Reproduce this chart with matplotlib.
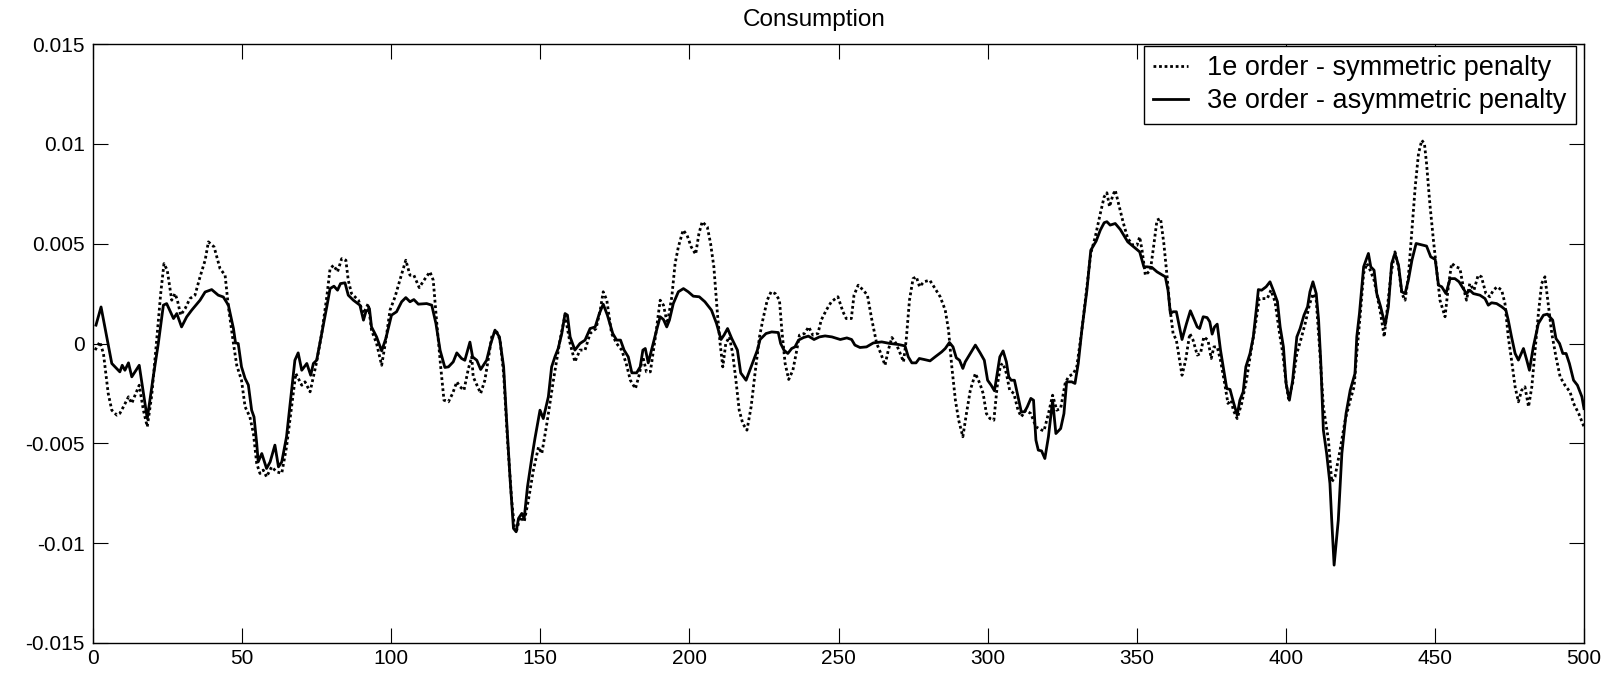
import numpy as np
import matplotlib
matplotlib.use("Agg")
import matplotlib.pyplot as plt

plt.rcParams['font.family'] = ['Liberation Sans', 'DejaVu Sans']

title = "Consumption"
legend_labels = ["1e order - symmetric penalty", "3e order - asymmetric penalty"]
xticks = [0, 50, 100, 150, 200, 250, 300, 350, 400, 450, 500]
yticks = [-0.015, -0.01, -0.005, 0, 0.005, 0.01, 0.015]
ytick_labels = ["-0.015", "-0.01", "-0.005", "0", "0.005", "0.01", "0.015"]

# 3e order - asymmetric penalty (solid), y in units of 1e-3
solid_x = [1, 2.7, 6.3, 9.0, 9.8, 10.7, 11.9, 13.0, 15.5, 18.2, 20.2, 21.9, 23.6, 24.7, 27.0, 28.1, 29.7, 31.4, 33.1, 35.9, 37.6, 39.8, 42.0, 43.7, 45.4, 47.1, 47.8, 48.7, 49.8, 51.0, 52.1, 53.2, 54.0, 54.9, 55.4, 56.6, 58.2, 59.4, 61.0, 62.2,
           63.3, 64.9, 66.0, 67.7, 68.8, 70.0, 71.7, 73.0, 73.9, 75.0, 76.7, 78.4, 79.5, 80.8, 82.0, 83.0, 84.5, 85.6, 87.3, 89.5, 90.7, 91.5, 92.7, 93.4, 95.1, 96.8, 98.2, 100.1, 101.8, 103.5, 104.9, 106.3, 107.6, 109.1, 111.9, 113.6, 115.0, 116.4, 118.0, 119.2, 120.8, 122.0, 123.6, 124.7, 126.4,
           127.3, 128.7, 130.0, 132.0, 133.4, 134.8, 136.3, 137.7, 138.7, 139.9, 141.0, 141.9, 142.7, 143.8, 144.6, 145.7, 147.2, 148.2, 149.9, 151.0, 152.7, 153.8, 154.9, 156.0, 157.2, 158.3, 159.1, 160.0, 161.6, 163.3, 165.0, 166.7, 168.4, 169.8, 171.1, 172.5, 174.3, 175.6, 176.9, 178.1, 179.5, 180.7, 182.3, 183.5, 184.4, 185.2, 186.2, 187.7, 189.0, 190.2,
           191.3, 192.4, 193.3, 194.6, 196.3, 198.0, 199.6, 201.3, 203.3, 205.2, 207.4, 209.1, 210.6, 211.6, 212.8, 214.2, 216.1, 217.2, 219.0, 220.9, 222.8, 223.7, 225.7, 227.6, 229.8, 230.6, 231.7, 233.0, 234.3, 235.4, 236.6, 238.3, 239.9, 241.8, 243.6, 245.5, 247.8, 250.6, 252.8, 254.4,
           255.5, 257.2, 259.4, 261.7, 264.5, 267.3, 270.1, 272.3, 273.4, 274.6, 276.0, 277.1, 278.7, 280.7, 282.4, 284.6, 285.8, 287.2, 288.4, 289.5, 290.6, 291.7, 292.5, 294.2, 295.9, 297.5, 298.9, 300.0, 301.2, 302.3, 303.4, 304.1, 305.2, 306.3, 307.1, 307.9, 309.0, 310.2, 311.3, 312.4, 313.3, 314.5, 315.4, 316.2, 317.0, 318.1, 319.2,
           320.4, 321.8, 322.9, 324.5, 325.6, 326.5, 328.2, 329.3, 330.4, 331.6, 333.3, 334.6, 336.4, 337.8, 339.1, 340.0, 341.1, 342.8, 344.5, 347.0, 349.0, 351.0, 352.4, 353.5, 355.1, 356.8, 359.6, 360.5, 361.3, 362.2, 363.3, 365.2, 366.7, 368.0, 369.1, 370.3, 371.1, 372.3, 373.6, 374.5, 375.3, 376.1, 377.0, 378.1, 379.3, 380.2, 381.3,
           382.4, 383.7, 384.6, 385.7, 386.6, 388.0, 389.1, 390.2, 390.8, 391.9, 393.4, 394.7, 395.8, 397.2, 398.1, 399.2, 400.1, 401.2, 402.3, 403.7, 404.8, 406.1, 407.3, 408.1, 409.1, 410.2, 411.0, 411.7, 412.6, 413.7, 414.8, 415.4, 416.2, 417.6, 418.8, 420.2, 421.6, 423.2, 423.8, 424.7, 426.1, 427.7, 428.5, 429.6, 430.5, 431.8, 433.3, 434.4, 435.5, 436.6, 437.8, 438.9, 440.0, 441.1, 442.3, 443.7,
           445.0, 447.2, 448.6, 450.1, 451.2, 452.3, 453.7, 455.1, 456.7, 458.1, 459.5, 460.6, 461.7, 462.9, 465.1, 466.8, 467.9, 469.0, 470.7, 472.4, 473.8, 474.6, 475.7, 476.9, 478.0, 479.7, 480.8, 481.7, 483.0, 484.7, 486.4, 487.7, 489.5, 490.6, 491.8, 492.9, 494.0, 495.1, 496.5, 497.8, 499.3, 500.0]
solid_y = [0.92, 1.83, -1.0, -1.42, -1.09, -1.34, -0.97, -1.67, -1.09, -3.76, -1.67, 0, 1.92, 2.0, 1.25, 1.5, 0.83, 1.33, 1.67, 2.17, 2.58, 2.7, 2.42, 2.33, 1.92, 0.75, 0.03, 0, -1.17, -1.75, -2.08, -3.34, -3.68, -5.0, -5.93, -5.51, -6.26, -5.93, -5.09, -6.18,
           -5.93, -4.67, -3.17, -0.84, -0.47, -1.34, -1.0, -1.59, -1.0, -0.84, 0.5, 1.84, 2.75, 2.87, 2.67, 3.0, 3.04, 2.42, 2.17, 1.92, 1.17, 1.59, 1.75, 0.83, 0.33, -0.37, 0.25, 1.42, 1.59, 2.09, 2.3, 2.09, 2.2, 1.97, 2.0, 1.92, 1.0, -0.34, -1.2, -1.17, -0.92, -0.47, -0.75, -0.84, 0.07,
           -0.67, -0.84, -1.3, -0.84, 0, 0.67, 0.33, -1.17, -3.84, -6.85, -9.26, -9.43, -8.76, -8.51, -8.76, -7.18, -5.68, -4.76, -3.34, -3.76, -2.67, -1.17, -0.67, -0.25, 0.5, 1.5, 1.42, 0.33, -0.33, 0, 0.17, 0.75, 0.83, 1.5, 1.97, 1.42, 0.5, 0.17, 0.17, -0.33, -0.67, -1.47, -1.47, -1.17, -0.33, -0.25, -0.97, -0.08, 0.67, 1.34,
           1.2, 0.83, 1.17, 2.0, 2.59, 2.75, 2.59, 2.37, 2.34, 2.09, 1.67, 1.0, 0.2, 0.42, 0.75, 0.25, -0.33, -1.47, -1.84, -1.09, -0.33, 0.2, 0.5, 0.58, 0.55, 0, -0.33, -0.5, -0.25, -0.17, 0.17, 0.3, 0.37, 0.2, 0.33, 0.38, 0.33, 0.2, 0.28, 0.2,
           -0.08, -0.2, -0.17, 0.03, 0.08, 0, -0.05, -0.12, -0.67, -0.97, -0.97, -0.75, -0.8, -0.87, -0.67, -0.42, -0.25, 0.05, -0.17, -0.72, -0.84, -1.25, -0.92, -0.5, -0.08, -0.47, -0.84, -1.84, -2.09, -2.37, -1.34, -0.67, -0.37, -0.92, -1.67, -1.84, -1.84, -2.67, -3.42, -3.42, -3.17, -2.75, -2.84, -4.84, -5.34, -5.38, -5.76,
           -4.67, -2.84, -4.51, -4.26, -3.51, -1.92, -1.92, -2.0, -1.0, 0.67, 2.67, 4.67, 5.13, 5.68, 6.05, 6.1, 5.93, 6.01, 5.71, 5.09, 4.84, 4.59, 3.84, 3.84, 3.81, 3.59, 3.34, 2.67, 1.5, 1.59, 1.59, 0.2, 1.0, 1.64, 1.25, 0.83, 0.75, 1.34, 1.3, 1.09, 0.47, 0.83, 0.97, -0.33, -1.42, -2.26, -2.3,
           -2.92, -3.59, -2.84, -2.42, -1.17, -0.5, 0.33, 1.83, 2.7, 2.67, 2.84, 3.09, 2.67, 2.09, 0.83, -0.17, -2.0, -2.84, -1.84, 0.33, 0.75, 1.42, 1.84, 2.59, 3.09, 2.5, 1.17, -0.83, -4.34, -5.51, -7.01, -8.85, -11.1, -8.85, -5.51, -3.51, -2.34, -1.5, 0.33, 1.5, 3.84, 4.51, 3.84, 3.67, 2.5, 1.84, 0.92, 1.84, 4.01, 4.51, 3.92, 2.59, 2.5, 3.17, 4.17, 5.01,
           4.96, 4.88, 4.34, 4.21, 2.92, 2.84, 2.5, 3.25, 3.25, 3.09, 2.75, 2.5, 2.67, 2.5, 2.42, 2.25, 1.92, 2.04, 2.0, 1.84, 1.67, 1.17, 0.33, -0.5, -0.83, -0.25, -0.83, -1.34, -0.17, 1.0, 1.42, 1.47, 1.17, 0.25, 0, -0.5, -0.5, -1.0, -1.84, -2.09, -2.67, -3.26]

# 1e order - symmetric penalty (dotted), y in units of 1e-3
dotted_x = [0.7, 2.3, 3.5, 5.1, 6.3, 8.0, 9.0, 10.2, 11.9, 13.0, 14.1, 15.5, 16.9, 18.2, 19.7, 21.4, 22.7, 23.8, 24.9, 26.4, 27.5, 28.3, 29.4, 30.9, 32.5, 34.2, 35.9, 37.6, 38.7, 40.6, 42.6, 44.3, 45.4, 47.1, 48.2, 49.8, 51.0, 52.6, 53.8, 54.9, 56.0, 57.1, 58.2, 59.9, 61.6, 63.3,
            64.9, 66.6, 68.0, 70.0, 71.1, 72.8, 73.9, 75.0, 76.7, 78.4, 79.5, 80.7, 82.0, 83.4, 84.8, 85.6, 86.7, 89.0, 90.7, 92.3, 93.4, 95.1, 96.8, 98.2, 99.6, 101.3, 102.9, 104.9, 106.3, 107.6, 109.4, 111.0, 113.0, 114.1, 115.2, 116.6, 117.7, 119.2, 120.6, 122.0, 123.1, 124.4, 125.9, 127.0,
            127.5, 130.0, 131.4, 132.5, 133.7, 135.2, 136.5, 137.7, 139.0, 140.4, 141.3, 142.1, 143.2, 144.6, 146.0, 147.7, 149.4, 150.5, 152.2, 154.4, 156.6, 158.3, 160.0, 161.6, 163.3, 165.0, 166.7, 168.7, 170.1, 171.1, 172.3, 173.9, 175.6, 177.3, 178.8, 180.2, 181.9, 183.0, 184.4, 185.6, 186.9, 188.6, 190.2,
            191.3, 192.6, 194.1, 195.2, 196.3, 197.9, 199.2, 200.6, 202.1, 203.2, 204.3, 206.0, 207.1, 208.2, 209.4, 210.3, 211.2, 212.2, 213.4, 214.5, 215.6, 216.7, 217.9, 219.3, 220.7, 222.0, 223.5, 224.6, 226.1, 227.4, 228.8, 230.2, 231.0, 232.1, 233.3, 234.7, 235.8, 236.9, 238.6, 240.0, 241.4, 243.1, 244.2, 245.9, 247.6, 249.8, 251.5, 252.6, 254.3,
            255.2, 256.6, 258.3, 259.7, 261.1, 262.8, 264.2, 265.6, 266.7, 267.9, 269.3, 270.7, 271.8, 272.7, 273.8, 275.0, 276.1, 277.2, 278.6, 280.6, 282.4, 284.1, 285.8, 286.9, 288.0, 289.2, 290.3, 291.7, 292.9, 294.2, 295.9, 297.4, 298.5, 299.6, 300.8, 302.1, 303.2, 304.3, 305.2, 306.3, 307.4, 308.8, 310.2, 311.3, 312.8, 314.5, 316.2, 317.8,
            318.9, 320.4, 321.8, 323.2, 324.5, 326.0, 327.1, 328.8, 329.9, 331.6, 333.3, 334.6, 336.1, 337.8, 339.1, 340.0, 340.9, 342.0, 342.8, 343.9, 345.4, 347.0, 348.8, 350.1, 351.0, 351.8, 352.9, 354.6, 355.8, 356.8, 358.0, 359.1, 360.2, 361.1, 362.2, 363.3, 364.4, 365.2, 366.4, 367.8, 368.9, 370.3, 371.4, 372.5, 373.9, 375.0, 375.9, 377.0, 378.1, 379.5, 380.6, 381.7,
            382.4, 383.7, 385.2, 386.8, 388.2, 389.7, 391.1, 392.5, 393.8, 395.0, 396.4, 397.9, 399.0, 400.1, 400.9, 402.3, 403.7, 405.0, 406.5, 407.9, 409.1, 410.2, 411.3, 412.6, 414.3, 415.4, 416.5, 418.2, 419.9, 421.6, 422.9, 423.8, 424.9, 426.1, 427.2, 428.3, 429.6, 430.5, 431.8, 433.0, 434.1, 435.3, 436.6, 437.8, 438.9, 440.0, 441.1, 442.3, 443.4, 444.5, 445.6,
            446.5, 447.2, 448.3, 449.5, 450.6, 451.7, 453.4, 454.5, 455.6, 457.1, 458.4, 459.5, 460.6, 461.7, 463.1, 464.5, 465.6, 467.1, 468.4, 469.6, 470.9, 472.4, 473.5, 474.6, 475.7, 476.9, 478.0, 479.1, 480.2, 481.4, 482.5, 483.6, 484.7, 485.8, 486.9, 488.1, 489.2, 490.6, 492.0, 493.6, 495.3, 496.5, 498.2, 500.0]
dotted_y = [-0.33, 0.08, -0.5, -2.5, -3.34, -3.59, -3.5, -3.17, -2.67, -3.0, -2.59, -2.09, -3.34, -4.17, -2.59, 0.25, 2.5, 4.0, 3.67, 2.17, 2.5, 2.17, 1.42, 1.75, 2.25, 2.42, 3.34, 4.17, 5.09, 4.84, 3.75, 3.42, 1.84, 0, -1.09, -1.84, -3.17, -3.67, -4.51, -6.01, -6.51, -6.34, -6.68, -6.18, -6.43, -6.5,
            -5.18, -3.17, -1.5, -2.09, -1.92, -2.42, -1.67, -0.92, 0.5, 2.34, 3.75, 3.92, 3.59, 4.25, 4.17, 3.17, 2.5, 2.17, 1.5, 2.0, 0.67, 0, -1.09, 0.17, 1.67, 2.34, 3.17, 4.17, 3.42, 3.42, 2.8, 3.17, 3.59, 3.17, 1.17, -1.17, -2.84, -2.92, -2.5, -1.92, -2.17, -2.34, -1.25, -0.67,
            -1.67, -2.5, -1.84, -0.84, 0.33, 0.67, 0.17, -1.5, -4.84, -7.85, -9.18, -9.35, -8.68, -8.93, -7.85, -6.34, -5.18, -5.51, -4.01, -1.84, 0.17, 1.42, 0, -0.92, -0.33, -0.33, 0.5, 0.75, 1.67, 2.59, 2.17, 0.5, 0, -0.33, -1.0, -1.84, -2.26, -1.67, -0.67, -1.42, -1.42, 0.33, 2.17,
            1.92, 1.0, 2.34, 4.0, 4.84, 5.68, 5.43, 4.84, 4.47, 5.51, 6.1, 5.84, 5.01, 3.84, 1.5, 0, -1.17, 0, 0.33, -0.5, -1.84, -3.34, -4.01, -4.34, -3.17, -1.5, 0.33, 1.17, 2.17, 2.59, 2.5, 2.17, 0.67, -1.0, -1.8, -1.34, -0.5, 0.42, 0.5, 0.83, 0.42, 0.5, 1.17, 1.67, 2.09, 2.34, 1.59, 1.25, 1.25,
            2.42, 2.92, 2.67, 2.42, 1.25, 0, -0.5, -1.09, -0.33, 0.3, 0, -0.5, -0.92, 0.17, 2.17, 3.25, 3.34, 2.84, 3.09, 3.17, 2.75, 2.34, 1.67, 0.67, -1.17, -2.84, -3.84, -4.67, -3.51, -2.34, -1.5, -2.0, -2.5, -3.51, -3.76, -3.84, -2.17, -1.09, -1.0, -1.5, -2.34, -2.5, -3.34, -3.67, -3.34, -3.51, -4.17, -4.31,
            -4.38, -3.51, -2.59, -3.34, -3.25, -2.0, -1.67, -1.5, -1.17, 0.67, 2.84, 4.51, 5.34, 6.51, 7.35, 7.55, 6.85, 7.43, 7.68, 7.01, 6.1, 5.26, 4.92, 4.92, 5.34, 4.67, 3.42, 3.67, 5.01, 6.18, 6.26, 5.01, 3.34, 1.84, 0.5, 0.17, -0.84, -1.59, -0.84, 0.5, 0.17, -0.58, -0.5, 0.33, 0.17, -0.75, -0.17, -0.17, -0.84, -2.0, -3.0, -2.84,
            -3.34, -3.76, -3.0, -1.84, -0.5, 0.83, 2.25, 2.25, 2.25, 2.67, 2.09, 0.5, -0.5, -2.0, -2.76, -2.0, -0.5, 0.17, 1.0, 1.92, 2.5, 2.17, -0.17, -3.17, -4.84, -6.93, -6.68, -5.34, -3.84, -2.84, -2.17, -0.5, 1.34, 3.51, 4.01, 3.67, 3.17, 2.5, 1.5, 0.33, 1.84, 3.51, 4.59, 3.84, 2.5, 2.17, 3.34, 5.68, 7.85, 9.51, 10.18,
            10.0, 9.01, 7.01, 5.18, 3.67, 2.17, 1.34, 2.84, 4.01, 3.84, 3.76, 2.84, 2.17, 3.0, 2.67, 3.42, 3.34, 2.5, 2.34, 2.67, 2.84, 2.67, 2.0, 0.33, -0.83, -2.17, -2.92, -2.34, -2.17, -3.17, -2.17, -0.33, 1.5, 3.0, 3.34, 1.84, 0.5, -0.67, -1.67, -2.09, -2.42, -3.0, -3.5, -4.17]

W, H = 1610, 673
fig = plt.figure(figsize=(W / 100, H / 100), dpi=100)
L, R, T, B = 93, 1584, 44, 643
ax = fig.add_axes([L / W, 1 - B / H, (R - L) / W, (B - T) / H])

ax.plot(dotted_x, np.array(dotted_y) * 1e-3, color='black', lw=2.0,
        linestyle=(0, (1, 1)), label=legend_labels[0])
ax.plot(solid_x, np.array(solid_y) * 1e-3, color='black', lw=2.0,
        linestyle='-', label=legend_labels[1])

ax.set_xlim(0, 500)
ax.set_ylim(-0.015, 0.015)
ax.set_xticks(xticks)
ax.set_xticklabels([str(v) for v in xticks])
ax.set_yticks(yticks)
ax.set_yticklabels(ytick_labels)
ax.tick_params(direction='in', length=10.5, width=0.8, top=True, right=True,
               labelsize=15)
ax.tick_params(axis='y', pad=6)
ax.tick_params(axis='x', pad=4)
for s in ax.spines.values():
    s.set_linewidth(1.0)

ax.set_title(title, fontsize=17.5, pad=13, x=0.484)

leg = ax.legend(loc='upper right', bbox_to_anchor=(1576 / W, 1 - 46 / H),
                bbox_transform=fig.transFigure, fontsize=19.5, frameon=True,
                fancybox=False, edgecolor='black', framealpha=1,
                borderaxespad=0, handlelength=1.3, handletextpad=0.7,
                borderpad=0.35, labelspacing=0.25)
leg.get_frame().set_linewidth(1.0)

fig.savefig("out.png", dpi=100)
